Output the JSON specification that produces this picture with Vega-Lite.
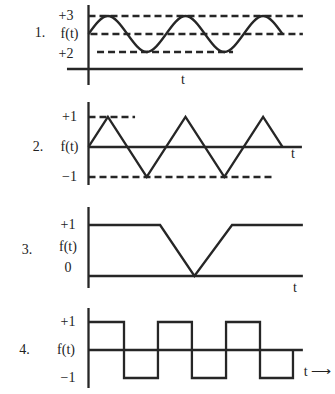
{
  "$schema": "https://vega.github.io/schema/vega-lite/v6.json",
  "padding": 0,
  "spacing": 0,
  "background": "white",
  "config": {
    "view": {"stroke": null},
    "axis": {"disable": true},
    "text": {"font": "Liberation Serif", "fontSize": 14, "color": "#222222"},
    "line": {"color": "#262626", "strokeWidth": 2.3},
    "rule": {"color": "#262626", "strokeWidth": 2.3}
  },
  "vconcat": [
    {
      "width": 335, "height": 95,
      "layer": [
        {
          "data": {"values": [
            {"x1": 0, "x2": 0, "y1": 1.611, "y2": -2.833},
            {"x1": -1.11, "x2": 11.05, "y1": -1.944, "y2": -1.944}
          ]},
          "mark": {"type": "rule"},
          "encoding": {
            "x": {"field": "x1", "type": "quantitative", "scale": {"domain": [-4.562, 12.706], "nice": false, "zero": false}},
            "x2": {"field": "x2"},
            "y": {"field": "y1", "type": "quantitative", "scale": {"domain": [-3.389, 1.889], "nice": false, "zero": false}},
            "y2": {"field": "y2"}
          }
        },
        {
          "data": {"values": [
            {"x1": 0, "x2": 11.05, "y1": 1, "y2": 1},
            {"x1": 0.1, "x2": 11.05, "y1": 0, "y2": 0},
            {"x1": 0.44, "x2": 7.45, "y1": -1, "y2": -1}
          ]},
          "mark": {"type": "rule", "strokeDash": [7, 4]},
          "encoding": {
            "x": {"field": "x1", "type": "quantitative"},
            "x2": {"field": "x2"},
            "y": {"field": "y1", "type": "quantitative"},
            "y2": {"field": "y2"}
          }
        },
        {
          "data": {"values": [
            {"t": 0, "v": 0}, {"t": 1, "v": 1}, {"t": 2, "v": 0}, {"t": 3, "v": -1},
            {"t": 4, "v": 0}, {"t": 5, "v": 1}, {"t": 6, "v": 0}, {"t": 7, "v": -1},
            {"t": 8, "v": 0}, {"t": 9, "v": 1}, {"t": 10, "v": 0}
          ]},
          "mark": {"type": "line", "interpolate": "natural"},
          "encoding": {
            "x": {"field": "t", "type": "quantitative"},
            "y": {"field": "v", "type": "quantitative"}
          }
        },
        {
          "data": {"values": [
            {"label": "+3", "x": -1.16, "y": 1},
            {"label": "f(t)", "x": -0.98, "y": 0},
            {"label": "+2", "x": -1.16, "y": -1.1},
            {"label": "1.", "x": -2.5, "y": 0.05},
            {"label": "t", "x": 4.87, "y": -2.56}
          ]},
          "mark": {"type": "text", "align": "center", "baseline": "middle"},
          "encoding": {
            "x": {"field": "x", "type": "quantitative"},
            "y": {"field": "y", "type": "quantitative"},
            "text": {"field": "label"}
          }
        }
      ]
    },
    {
      "width": 335, "height": 100,
      "layer": [
        {
          "data": {"values": [
            {"x1": 0, "x2": 0, "y1": 1.5, "y2": -1.267},
            {"x1": 0, "x2": 11.0, "y1": 0, "y2": 0}
          ]},
          "mark": {"type": "rule"},
          "encoding": {
            "x": {"field": "x1", "type": "quantitative", "scale": {"domain": [-4.562, 12.706], "nice": false, "zero": false}},
            "x2": {"field": "x2"},
            "y": {"field": "y1", "type": "quantitative", "scale": {"domain": [-1.6, 1.733], "nice": false, "zero": false}},
            "y2": {"field": "y2"}
          }
        },
        {
          "data": {"values": [
            {"x1": 0, "x2": 2.4, "y1": 1, "y2": 1},
            {"x1": 0, "x2": 9.46, "y1": -1, "y2": -1}
          ]},
          "mark": {"type": "rule", "strokeDash": [7, 4]},
          "encoding": {
            "x": {"field": "x1", "type": "quantitative"},
            "x2": {"field": "x2"},
            "y": {"field": "y1", "type": "quantitative"},
            "y2": {"field": "y2"}
          }
        },
        {
          "data": {"values": [
            {"t": 0, "v": 0}, {"t": 1, "v": 1}, {"t": 3, "v": -1}, {"t": 5, "v": 1},
            {"t": 7, "v": -1}, {"t": 9, "v": 1}, {"t": 10, "v": 0}
          ]},
          "mark": {"type": "line"},
          "encoding": {
            "x": {"field": "t", "type": "quantitative"},
            "y": {"field": "v", "type": "quantitative"}
          }
        },
        {
          "data": {"values": [
            {"label": "+1", "x": -0.98, "y": 1},
            {"label": "f(t)", "x": -0.98, "y": 0},
            {"label": "−1", "x": -0.98, "y": -1},
            {"label": "2.", "x": -2.6, "y": 0},
            {"label": "t", "x": 10.54, "y": -0.22}
          ]},
          "mark": {"type": "text", "align": "center", "baseline": "middle"},
          "encoding": {
            "x": {"field": "x", "type": "quantitative"},
            "y": {"field": "y", "type": "quantitative"},
            "text": {"field": "label"}
          }
        }
      ]
    },
    {
      "width": 335, "height": 99,
      "layer": [
        {
          "data": {"values": [
            {"x1": 0, "x2": 0, "y1": 1.353, "y2": -0.235},
            {"x1": 0, "x2": 11.05, "y1": 0, "y2": 0}
          ]},
          "mark": {"type": "rule"},
          "encoding": {
            "x": {"field": "x1", "type": "quantitative", "scale": {"domain": [-4.562, 12.706], "nice": false, "zero": false}},
            "x2": {"field": "x2"},
            "y": {"field": "y1", "type": "quantitative", "scale": {"domain": [-0.353, 1.588], "nice": false, "zero": false}},
            "y2": {"field": "y2"}
          }
        },
        {
          "data": {"values": [
            {"t": 0, "v": 1}, {"t": 3.69, "v": 1}, {"t": 5.46, "v": 0}, {"t": 7.4, "v": 1}, {"t": 11.05, "v": 1}
          ]},
          "mark": {"type": "line"},
          "encoding": {
            "x": {"field": "t", "type": "quantitative"},
            "y": {"field": "v", "type": "quantitative"}
          }
        },
        {
          "data": {"values": [
            {"label": "+1", "x": -1.06, "y": 1},
            {"label": "f(t)", "x": -1.06, "y": 0.57},
            {"label": "0", "x": -1.06, "y": 0.16},
            {"label": "3.", "x": -3.17, "y": 0.51},
            {"label": "t", "x": 10.64, "y": -0.235}
          ]},
          "mark": {"type": "text", "align": "center", "baseline": "middle"},
          "encoding": {
            "x": {"field": "x", "type": "quantitative"},
            "y": {"field": "y", "type": "quantitative"},
            "text": {"field": "label"}
          }
        }
      ]
    },
    {
      "width": 335, "height": 100,
      "layer": [
        {
          "data": {"values": [
            {"x1": 0, "x2": 0, "y1": 1.5, "y2": -1.357},
            {"x1": 0, "x2": 11.05, "y1": 0, "y2": 0}
          ]},
          "mark": {"type": "rule"},
          "encoding": {
            "x": {"field": "x1", "type": "quantitative", "scale": {"domain": [-4.562, 12.706], "nice": false, "zero": false}},
            "x2": {"field": "x2"},
            "y": {"field": "y1", "type": "quantitative", "scale": {"domain": [-1.607, 1.964], "nice": false, "zero": false}},
            "y2": {"field": "y2"}
          }
        },
        {
          "data": {"values": [
            {"i": 0, "t": 0, "v": 1}, {"i": 1, "t": 1.83, "v": 1}, {"i": 2, "t": 1.83, "v": -1},
            {"i": 3, "t": 3.58, "v": -1}, {"i": 4, "t": 3.58, "v": 1}, {"i": 5, "t": 5.33, "v": 1},
            {"i": 6, "t": 5.33, "v": -1}, {"i": 7, "t": 7.09, "v": -1}, {"i": 8, "t": 7.09, "v": 1},
            {"i": 9, "t": 8.84, "v": 1}, {"i": 10, "t": 8.84, "v": -1}, {"i": 11, "t": 10.54, "v": -1},
            {"i": 12, "t": 10.54, "v": 0}
          ]},
          "mark": {"type": "line"},
          "encoding": {
            "x": {"field": "t", "type": "quantitative"},
            "y": {"field": "v", "type": "quantitative"},
            "order": {"field": "i", "type": "quantitative"}
          }
        },
        {
          "data": {"values": [
            {"label": "+1", "x": -1.06, "y": 1},
            {"label": "f(t)", "x": -1.16, "y": 0},
            {"label": "−1", "x": -1.06, "y": -1},
            {"label": "4.", "x": -3.3, "y": 0}
          ]},
          "mark": {"type": "text", "align": "center", "baseline": "middle"},
          "encoding": {
            "x": {"field": "x", "type": "quantitative"},
            "y": {"field": "y", "type": "quantitative"},
            "text": {"field": "label"}
          }
        },
        {
          "data": {"values": [
            {"label": "t ⟶", "x": 11.1, "y": -0.79}
          ]},
          "mark": {"type": "text", "align": "left", "baseline": "middle"},
          "encoding": {
            "x": {"field": "x", "type": "quantitative"},
            "y": {"field": "y", "type": "quantitative"},
            "text": {"field": "label"}
          }
        }
      ]
    }
  ]
}
